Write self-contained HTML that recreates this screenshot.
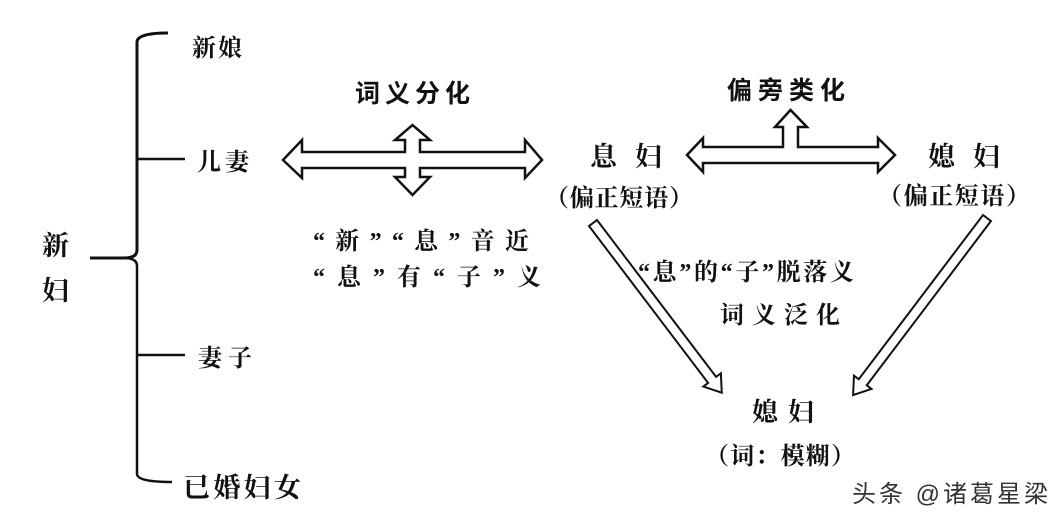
<!DOCTYPE html>
<html><head><meta charset="utf-8"><style>
html,body{margin:0;padding:0;background:#fff;}
svg{display:block;}
text{font-family:"Liberation Serif","Noto Serif CJK SC","Noto Sans CJK SC",serif;fill:#111;font-weight:bold;}
.b{font-family:"Liberation Sans","Noto Sans CJK SC",sans-serif;font-weight:bold;}
</style></head><body>
<svg width="1064" height="522" viewBox="0 0 1064 522" xmlns="http://www.w3.org/2000/svg">
<rect width="1064" height="522" fill="#fff"/>
<g fill="none" stroke="#111" stroke-width="2.5">
<path d="M168 33 Q137 33 137 42 L137 250 Q137 258 124 258 L90 258" stroke-width="3"/>
<path d="M124 258 Q137 258 137 266 L137 474 Q137 482 172 482"/>
<path d="M137 159 L185 159 M137 355 L185 355"/>
</g>
<g fill="#fff" stroke="#111" stroke-width="2.5" stroke-linejoin="miter">
<path d="M283 160 L302 140 L302 152 L405 152 L405 140 L395 140 L412.5 125 L430 140 L420 140 L420 152 L525 152 L525 140 L542 160 L525 178 L525 168 L420 168 L420 177 L430 177 L412.5 195 L395 177 L405 177 L405 168 L302 168 L302 178 Z"/>
<path d="M687 155 L703 138 L703 147 L783 147 L783 127 L775 127 L790.5 110 L807 127 L798 127 L798 147 L878 147 L878 138 L895 155 L878 172 L878 163 L703 163 L703 172 Z"/>
<g transform="translate(593,223) rotate(52.8)">
<path d="M0 -5 L197 -5 L197 -11 L213 0 L197 11 L197 5 L0 5 Z" stroke-width="2"/>
</g>
<g transform="translate(987,218) rotate(127.1)">
<path d="M0 -5 L206 -5 L206 -11 L222 0 L206 11 L206 5 L0 5 Z" stroke-width="2"/>
</g>
</g>
<text x="192" y="56" font-size="24" textLength="50">新娘</text>
<text x="197" y="170" font-size="24" textLength="52">儿妻</text>
<text x="198" y="366" font-size="24" textLength="54">妻子</text>
<text x="183" y="497" font-size="27" textLength="118">已婚妇女</text>
<text x="42" y="255" font-size="27">新</text>
<text x="42" y="300" font-size="27">妇</text>
<text class="b" x="355" y="102" font-size="25" textLength="115">词义分化</text>
<text class="b" x="727" y="99" font-size="25" textLength="118">偏旁类化</text>
<text x="590" y="166" font-size="27" textLength="72">息 妇</text>
<text x="545" y="206" font-size="24" textLength="148">（偏正短语）</text>
<text x="928" y="166" font-size="27" textLength="72">媳 妇</text>
<text x="878" y="204" font-size="24" textLength="152">（偏正短语）</text>
<text x="313" y="249" font-size="24" textLength="216">“新”“息”音近</text>
<text x="313" y="285" font-size="24" textLength="228">“息”有“子”义</text>
<text x="638" y="280" font-size="24" textLength="216">“息”的“子”脱落义</text>
<text x="720" y="323" font-size="24" textLength="120">词义泛化</text>
<text x="752" y="421" font-size="26" textLength="62">媳妇</text>
<text x="705" y="464" font-size="24" textLength="150">（词：模糊）</text>
<text x="852" y="502" font-size="24" style="font-family:'Liberation Sans','Noto Sans CJK SC',sans-serif;fill:#333;font-weight:normal" textLength="196">头条 @诸葛星梁</text>
</svg>
</body></html>
